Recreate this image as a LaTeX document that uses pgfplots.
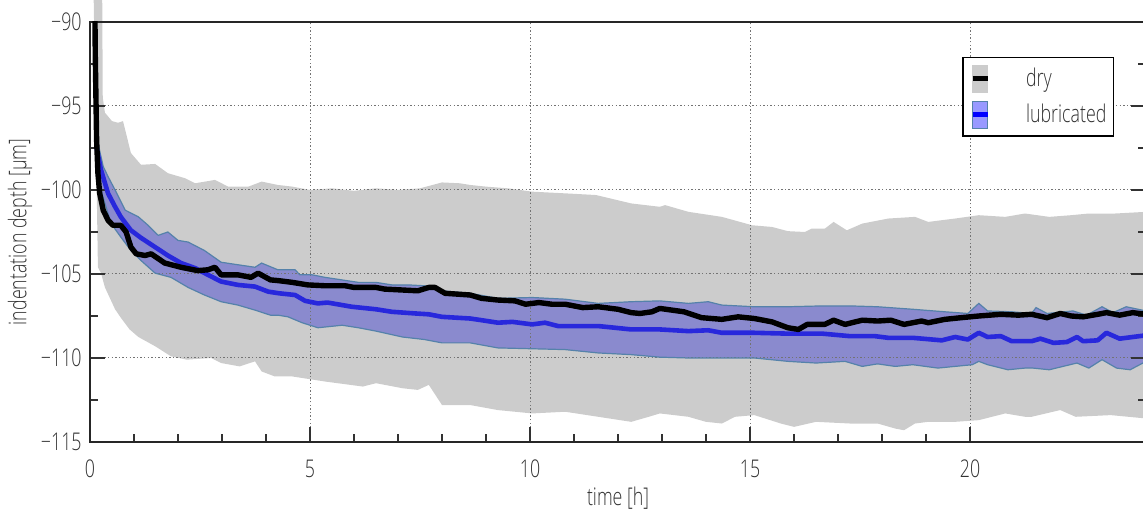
\documentclass[border=0pt]{standalone}
\usepackage{fontspec}
\setmainfont{Open Sans}[UprightFont=* Light, FakeStretch=0.73]
\usepackage{pgfplots}
\usepackage{pgfplotstable}
\pgfplotsset{compat=1.18}
\usepgfplotslibrary{fillbetween}
\definecolor{bandgray}{RGB}{204,204,204}
\definecolor{bandblue}{RGB}{138,138,206}
\definecolor{legblue}{RGB}{153,153,255}
\definecolor{linblue}{RGB}{40,40,220}
\definecolor{edgeblue}{RGB}{85,130,170}
\definecolor{txt}{RGB}{50,50,50}
\newcommand{\fs}{\fontsize{12.2pt}{14pt}\selectfont}

\pgfplotstableread{
x y
0.08 -80
0.12 -92
0.15 -97
0.18 -99.0
0.22 -100.2
0.30 -101.2
0.41 -101.8
0.52 -102.1
0.70 -102.1
0.82 -102.5
0.93 -103.4
1.05 -103.8
1.25 -103.9
1.39 -103.8
1.70 -104.35
2.07 -104.6
2.45 -104.8
2.68 -104.75
2.84 -104.6
2.98 -105.05
3.36 -105.05
3.66 -105.2
3.82 -104.95
4.10 -105.35
4.30 -105.4
4.60 -105.5
4.95 -105.65
5.34 -105.7
5.80 -105.7
6.00 -105.8
6.50 -105.8
6.70 -105.9
7.45 -106.0
7.70 -105.8
7.84 -105.8
8.07 -106.15
8.64 -106.25
8.90 -106.45
9.27 -106.55
9.66 -106.6
9.90 -106.8
10.2 -106.7
10.5 -106.8
10.8 -106.8
11.2 -107.0
11.55 -106.95
12.0 -107.1
12.3 -107.3
12.5 -107.35
12.77 -107.25
12.95 -107.05
13.5 -107.25
13.9 -107.6
14.36 -107.7
14.73 -107.55
15.1 -107.65
15.5 -107.85
15.86 -108.2
16.1 -108.3
16.3 -108.0
16.7 -108.0
16.9 -107.75
17.16 -108.0
17.55 -107.75
17.9 -107.8
18.2 -107.75
18.5 -108.0
18.9 -107.8
19.05 -107.9
19.43 -107.7
19.8 -107.6
20.2 -107.5
20.7 -107.4
21.1 -107.45
21.4 -107.4
21.75 -107.6
22.05 -107.35
22.3 -107.5
22.57 -107.55
22.9 -107.4
23.1 -107.3
23.4 -107.45
23.7 -107.3
24.0 -107.4
}\drymean

\pgfplotstableread{
x y
0.08 -70
0.26 -80
0.29 -94.5
0.34 -95.4
0.50 -95.9
0.64 -96.0
0.75 -95.9
0.93 -97.8
1.16 -98.5
1.48 -98.45
1.77 -99.0
2.16 -99.3
2.39 -99.6
2.84 -99.4
3.14 -99.8
3.6 -99.8
3.9 -99.5
4.27 -99.7
4.6 -99.8
5.0 -100.0
5.5 -99.9
6.0 -100.05
6.5 -99.9
7.0 -100.0
7.5 -99.9
8.0 -99.55
8.4 -99.6
8.64 -99.7
9.0 -99.8
9.5 -99.9
10.05 -100.1
10.8 -100.2
11.5 -100.3
12.3 -100.8
12.95 -101.0
13.07 -100.9
13.6 -101.3
14.36 -101.6
15.05 -102.1
15.5 -102.2
15.86 -102.45
16.25 -102.5
16.4 -102.3
16.7 -102.3
16.9 -101.9
17.2 -102.4
17.55 -102.0
18.14 -101.7
18.75 -101.6
19.05 -101.9
19.66 -101.7
20.2 -101.5
20.8 -101.6
21.25 -101.4
21.8 -101.6
22.3 -101.5
22.7 -101.4
23.3 -101.4
24.0 -101.3
}\dryup

\pgfplotstableread{
x y
0.08 -88
0.18 -104.6
0.25 -104.95
0.34 -105.8
0.57 -107.1
0.7 -107.6
0.9 -108.3
1.1 -108.75
1.48 -109.3
1.84 -109.9
2.2 -110.1
2.75 -110.0
2.98 -110.3
3.4 -110.5
3.75 -110.2
3.9 -110.8
4.2 -111.1
4.6 -111.1
5.34 -111.4
6.2 -111.7
6.5 -111.5
7.1 -111.8
7.45 -111.9
7.7 -111.6
8.0 -112.8
8.64 -112.8
9.27 -113.1
10.05 -113.3
10.8 -113.2
11.55 -113.5
12.3 -113.8
12.7 -113.5
12.95 -113.3
13.6 -113.5
14.0 -113.8
14.36 -113.9
14.66 -113.5
15.1 -113.4
15.7 -113.9
16.0 -114.1
16.5 -113.8
17.27 -113.9
17.9 -113.9
18.3 -114.2
18.5 -114.3
18.75 -113.9
19.05 -113.8
19.66 -113.8
20.2 -113.7
20.8 -113.3
21.25 -113.5
21.4 -113.5
22.05 -113.1
22.4 -113.5
23.2 -113.4
24.0 -113.6
}\drylow

\pgfplotstableread{
x y
0.15 -97.5
0.25 -98.8
0.41 -100.2
0.57 -101.0
0.7 -101.6
0.93 -102.4
1.16 -102.85
1.48 -103.4
1.77 -103.9
2.07 -104.35
2.39 -104.65
2.68 -105.05
2.98 -105.45
3.36 -105.65
3.75 -105.75
4.05 -106.05
4.3 -106.15
4.66 -106.25
4.89 -106.6
5.18 -106.75
5.4 -106.7
5.95 -106.95
6.5 -107.1
6.86 -107.25
7.4 -107.35
7.7 -107.4
8.0 -107.55
8.64 -107.65
8.9 -107.75
9.27 -107.9
9.6 -107.85
10.05 -108.0
10.34 -107.9
10.64 -108.1
11.2 -108.1
11.55 -108.1
11.93 -108.2
12.3 -108.3
12.95 -108.3
13.6 -108.4
14.05 -108.35
14.36 -108.5
15.1 -108.5
15.86 -108.55
16.64 -108.55
17.27 -108.7
17.84 -108.7
18.14 -108.8
18.7 -108.8
19.36 -108.95
19.66 -108.75
19.95 -108.9
20.2 -108.5
20.4 -108.75
20.7 -108.7
20.95 -109.0
21.4 -109.0
21.6 -108.85
21.9 -109.1
22.2 -109.05
22.43 -108.75
22.57 -109.0
22.9 -108.95
23.1 -108.5
23.4 -108.85
23.7 -108.75
24.0 -108.65
}\lubmean

\pgfplotstableread{
x y
0.15 -96.8
0.18 -97.2
0.3 -98.6
0.41 -99.2
0.57 -100.0
0.8 -101.2
1.1 -101.6
1.32 -102.1
1.55 -102.7
1.77 -102.5
2.0 -103.0
2.23 -103.1
2.6 -103.6
2.98 -104.3
3.36 -104.45
3.75 -104.6
3.9 -104.35
4.27 -104.75
4.66 -104.75
4.77 -105.05
5.05 -105.05
5.34 -105.2
6.1 -105.5
6.5 -105.5
6.86 -105.65
7.23 -105.65
7.6 -105.7
8.0 -106.0
8.64 -106.15
9.27 -106.45
10.05 -106.4
10.8 -106.5
11.55 -106.75
12.3 -106.65
12.95 -106.6
13.6 -106.75
14.05 -106.65
14.36 -106.85
15.1 -106.95
15.86 -106.95
16.64 -106.9
17.27 -106.9
17.9 -106.95
18.7 -107.1
19.43 -107.25
19.95 -107.35
20.2 -106.75
20.4 -107.2
20.95 -107.25
21.4 -107.35
21.5 -107.0
21.75 -107.35
22.34 -107.2
22.65 -107.45
23.0 -106.95
23.25 -107.3
23.55 -106.95
24.0 -107.2
}\lubup

\pgfplotstableread{
x y
0.15 -98.2
0.22 -99.8
0.34 -100.8
0.48 -102.0
0.7 -102.8
0.93 -103.6
1.16 -104.2
1.48 -104.95
1.84 -105.2
2.23 -105.8
2.6 -106.25
2.98 -106.65
3.36 -106.85
3.75 -107.15
4.1 -107.45
4.27 -107.45
4.5 -107.55
4.82 -107.9
5.18 -108.2
5.73 -108.05
6.1 -108.2
6.5 -108.4
7.1 -108.75
7.6 -108.9
8.0 -109.1
8.64 -109.1
9.27 -109.4
10.05 -109.45
10.8 -109.5
11.55 -109.7
12.3 -109.8
12.95 -109.95
13.6 -110.0
15.1 -110.0
15.86 -110.2
16.5 -110.3
17.16 -110.2
17.55 -110.5
17.9 -110.35
18.3 -110.5
18.7 -110.4
19.27 -110.6
20.05 -110.4
20.2 -110.2
20.4 -110.4
20.86 -110.7
21.25 -110.6
21.43 -110.6
21.8 -110.7
22.43 -110.3
22.7 -110.6
23.0 -110.1
23.33 -110.6
23.64 -110.7
24.0 -110.2
}\lublow

\begin{document}
\begin{tikzpicture}
\begin{axis}[
  name=ax,
  set layers,
  scale only axis,
  width=528pt, height=210pt,
  xmin=0, xmax=24, ymin=-115, ymax=-90,
  xtick={0,5,10,15,20},
  xticklabels={0,5,10,15,20},
  minor x tick num=4,
  ytick={-115,-110,-105,-100,-95,-90},
  yticklabels={−115,−110,−105,−100,−95,−90},
  minor y tick num=1,
  xtick pos=lower, ytick pos=both,
  tick align=inside,
  major tick length=7.5pt, minor tick length=4pt,
  tick style={line width=1pt, color=txt},
  axis line style={line width=1pt, color=black!85},
  grid=major,
  major grid style={line width=0.5pt, color=black!55, dash pattern=on 0.7pt off 1.1pt},
  xticklabel style={font=\fs, text=txt, anchor=base, inner sep=0pt, yshift=-18pt},
  yticklabel style={font=\fs, text=txt, anchor=east, inner sep=0pt, xshift=-4pt},
  xlabel={time [h]},
  ylabel={indentation depth [µm]},
  xlabel style={font=\fs, text=txt, at={(axis description cs:0.5,-0.152)}, anchor=base, inner sep=0pt},
  ylabel style={font=\fs, text=txt, at={(axis description cs:-0.0663,0.5)}, anchor=center, inner sep=0pt},
  legend style={at={(rel axis cs:0.9697,0.9167)}, anchor=north east,
    draw=black, line width=0.6pt, fill=white, font=\fs, text=txt,
    inner xsep=3.5pt, inner ysep=3.5pt, row sep=4pt, column sep=18pt,
    nodes={inner sep=0pt}},
  legend cell align=left,
]
% legend images
\addlegendimage{legend image code/.code={
  \fill[bandgray] (0pt,-6.75pt) rectangle (7.5pt,6.75pt);
  \draw[black, line width=2.5pt] (0pt,0pt) -- (7.5pt,0pt);}}
\addlegendentry{dry}
\addlegendimage{legend image code/.code={
  \fill[legblue] (0pt,-6.75pt) rectangle (7.5pt,6.75pt);
  \draw[edgeblue, line width=0.4pt] (0pt,-6.75pt) rectangle (7.5pt,6.75pt);
  \draw[blue, line width=2.5pt] (0pt,0pt) -- (7.5pt,0pt);}}
\addlegendentry{lubricated}

\addplot[name path=du, draw=none, forget plot] table[x=x,y=y] {\dryup};
\addplot[name path=dl, draw=none, forget plot] table[x=x,y=y] {\drylow};
\addplot[bandgray, forget plot] fill between[of=du and dl, on layer=axis background];

\addplot[name path=lu, draw=none, forget plot] table[x=x,y=y] {\lubup};
\addplot[name path=ll, draw=none, forget plot] table[x=x,y=y] {\lublow};
\addplot[bandblue, forget plot] fill between[of=lu and ll, on layer=axis background];

\addplot[edgeblue, line width=0.6pt, forget plot] table[x=x,y=y] {\lubup};
\addplot[edgeblue, line width=0.6pt, forget plot] table[x=x,y=y] {\lublow};

\addplot[linblue, line width=2.3pt, line join=round, forget plot] table[x=x,y=y] {\lubmean};
\addplot[black, line width=2.7pt, line join=round, forget plot] table[x=x,y=y] {\drymean};
\end{axis}
\pgfresetboundingbox
\path[use as bounding box] ([xshift=-45pt,yshift=-35pt]ax.south west) rectangle ([xshift=-1.5pt,yshift=11pt]ax.north east);
\end{tikzpicture}
\end{document}
